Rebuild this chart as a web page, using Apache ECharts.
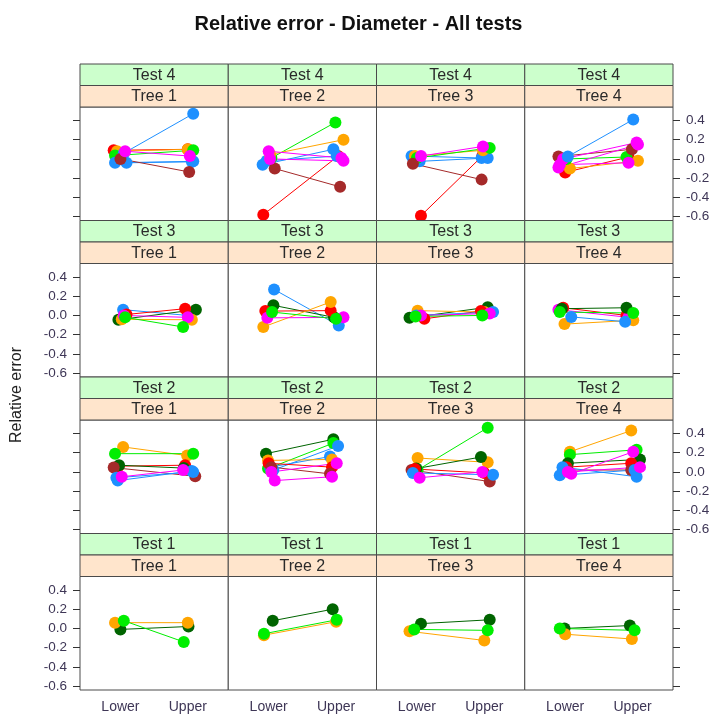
<!DOCTYPE html>
<html>
<head>
<meta charset="utf-8">
<title>Relative error - Diameter - All tests</title>
<script src="https://cdn.jsdelivr.net/npm/echarts@6/dist/echarts.min.js"></script>
<style>
  html, body { margin: 0; padding: 0; background: #ffffff; }
  #chart { width: 717px; height: 715px; }
</style>
</head>
<body>
<div id="chart"></div>
<script>
// Panel labels
const tests = ['Test 4', 'Test 3', 'Test 2', 'Test 1'];   // rows, top to bottom
const trees = ['Tree 1', 'Tree 2', 'Tree 3', 'Tree 4'];   // columns, left to right
const positions = ['Lower', 'Upper'];
const yTicks = [-0.6, -0.4, -0.2, 0.0, 0.2, 0.4];

// Measurer groups (index into groupColors)
const groupColors = ['#FF0000', '#1E90FF', '#00EE00', '#FFA500', '#FF00FF', '#A52A2A', '#006400'];

// Each row: [group, lower value, upper value, lower jitter, upper jitter]
const test4_tree1 = [
  [0, 0.09, 0.10, -0.10, 0.00],
  [3, 0.08, 0.10, -0.05, 0.00],
  [2, 0.035, 0.09, -0.08, 0.08],
  [1, 0.06, 0.47, 0.05, 0.08],
  [1, -0.04, -0.025, -0.08, 0.08],
  [1, -0.04, -0.03, 0.09, 0.06],
  [5, 0.00, -0.135, 0.00, 0.02],
  [4, 0.08, 0.03, 0.07, 0.03]
];
const test4_tree2 = [
  [0, -0.58, 0.03, -0.08, 0.03],
  [1, -0.06, 0.10, -0.09, -0.04],
  [1, -0.02, 0.03, -0.03, 0.01],
  [2, 0.01, 0.38, 0.04, -0.01],
  [3, 0.045, 0.20, 0.02, 0.11],
  [5, -0.10, -0.29, 0.09, 0.06],
  [4, 0.08, 0.01, 0.00, 0.08],
  [4, 0.00, -0.02, 0.02, 0.11]
];
const test4_tree3 = [
  [0, -0.59, 0.03, 0.06, -0.03],
  [1, 0.03, 0.01, -0.08, -0.04],
  [1, -0.025, 0.01, 0.04, 0.05],
  [3, 0.03, 0.09, -0.03, -0.02],
  [2, 0.01, 0.115, 0.00, 0.08],
  [5, -0.05, -0.215, -0.06, -0.04],
  [4, 0.03, 0.13, 0.06, -0.02]
];
const test4_tree4 = [
  [0, -0.14, 0.02, 0.00, -0.06],
  [3, -0.10, -0.02, 0.07, 0.08],
  [2, 0.00, 0.02, 0.02, -0.09],
  [5, 0.025, 0.10, -0.10, -0.01],
  [4, -0.09, 0.15, -0.10, 0.08],
  [4, -0.06, -0.04, -0.08, -0.06],
  [4, 0.00, 0.17, -0.03, 0.06],
  [1, 0.025, 0.41, 0.04, 0.01]
];
const test3_tree1 = [
  [1, 0.06, 0.00, 0.04, 0.00],
  [6, -0.045, 0.06, -0.03, 0.12],
  [0, 0.01, 0.07, 0.09, -0.04],
  [3, -0.04, -0.045, 0.02, 0.06],
  [4, 0.00, -0.02, 0.05, 0.00],
  [2, -0.02, -0.12, 0.07, -0.07]
];
const test3_tree2 = [
  [1, 0.27, -0.105, 0.08, 0.04],
  [6, 0.105, -0.02, 0.07, -0.03],
  [0, 0.045, 0.05, -0.05, -0.08],
  [3, -0.12, 0.14, -0.08, -0.08],
  [4, -0.025, -0.02, -0.02, 0.11],
  [2, 0.035, -0.035, 0.05, 0.00]
];
const test3_tree3 = [
  [6, -0.025, 0.085, -0.11, 0.05],
  [3, 0.05, 0.035, 0.01, 0.00],
  [0, -0.035, 0.045, 0.11, -0.05],
  [1, 0.00, 0.035, -0.01, 0.13],
  [4, 0.00, 0.02, 0.06, 0.08],
  [2, -0.01, 0.00, -0.02, -0.03]
];
const test3_tree4 = [
  [0, 0.08, 0.00, -0.03, -0.09],
  [4, 0.06, -0.02, -0.10, -0.06],
  [6, 0.07, 0.08, -0.05, -0.09],
  [3, -0.09, -0.05, -0.01, 0.01],
  [1, -0.015, -0.065, 0.09, -0.11],
  [2, 0.035, 0.025, -0.08, 0.01]
];
const test2_tree1 = [
  [3, 0.26, 0.17, 0.04, -0.01],
  [2, 0.19, 0.19, -0.08, 0.08],
  [0, 0.06, 0.07, -0.03, -0.04],
  [6, 0.07, 0.04, -0.02, -0.06],
  [5, 0.045, -0.045, -0.10, 0.11],
  [1, -0.09, 0.01, -0.04, 0.06],
  [1, -0.06, 0.00, -0.06, 0.08],
  [4, -0.05, 0.02, 0.02, -0.07]
];
const test2_tree2 = [
  [6, 0.19, 0.34, -0.04, -0.04],
  [2, 0.035, 0.30, -0.01, -0.04],
  [1, 0.02, 0.27, 0.07, 0.03],
  [1, 0.05, 0.16, 0.02, -0.09],
  [3, 0.12, 0.13, -0.01, -0.06],
  [0, 0.09, 0.05, 0.00, -0.06],
  [5, 0.05, -0.02, 0.04, -0.09],
  [4, 0.00, 0.09, 0.04, 0.01],
  [4, -0.09, -0.05, 0.09, -0.06]
];
const test2_tree3 = [
  [2, 0.02, 0.46, 0.01, 0.05],
  [3, 0.145, 0.10, 0.01, 0.05],
  [6, 0.035, 0.155, -0.01, -0.05],
  [5, 0.02, -0.10, -0.08, 0.08],
  [0, 0.03, -0.01, -0.03, 0.00],
  [1, -0.01, -0.03, -0.06, 0.13],
  [4, -0.06, 0.00, 0.04, -0.03]
];
const test2_tree4 = [
  [3, 0.21, 0.43, 0.07, -0.02],
  [2, 0.18, 0.23, 0.07, 0.06],
  [6, 0.09, 0.13, 0.04, 0.11],
  [0, 0.05, 0.09, 0.02, -0.02],
  [5, 0.02, 0.02, 0.04, -0.02],
  [1, 0.05, -0.05, -0.04, 0.06],
  [1, -0.035, 0.02, -0.08, 0.03],
  [4, -0.02, 0.21, 0.09, 0.01],
  [4, 0.00, 0.05, 0.04, 0.11]
];
const test1_tree1 = [
  [6, -0.01, 0.02, 0.00, 0.01],
  [3, 0.06, 0.06, -0.08, 0.00],
  [2, 0.08, -0.14, 0.05, -0.06]
];
const test1_tree2 = [
  [6, 0.08, 0.20, 0.06, -0.05],
  [3, -0.07, 0.07, -0.07, 0.00],
  [2, -0.055, 0.09, -0.07, 0.01]
];
const test1_tree3 = [
  [6, 0.05, 0.09, 0.06, 0.08],
  [3, -0.03, -0.125, -0.11, 0.00],
  [2, -0.01, -0.02, -0.04, 0.05]
];
const test1_tree4 = [
  [6, 0.00, 0.03, -0.01, -0.04],
  [3, -0.06, -0.11, 0.00, -0.01],
  [2, 0.00, -0.02, -0.08, 0.03]
];

const panels = [
  [test4_tree1, test4_tree2, test4_tree3, test4_tree4],
  [test3_tree1, test3_tree2, test3_tree3, test3_tree4],
  [test2_tree1, test2_tree2, test2_tree3, test2_tree4],
  [test1_tree1, test1_tree2, test1_tree3, test1_tree4]
];

// Layout of the 4 x 4 lattice
const FONT = '"Liberation Sans", Arial, sans-serif';
const colLeft0 = 80, colW = 148.25;
const rowTop0 = 64, rowH = 156.5, stripH = 21.5;
const yMin = -0.64, yMax = 0.54;
const xMin = 0.4, xMax = 2.6;
const labelColor = '#3e3656';

const grids = [], xAxes = [], yAxes = [], series = [], graphics = [];

panels.forEach((rowPanels, r) => {
  rowPanels.forEach((lines, c) => {
    const idx = r * 4 + c;
    const left = colLeft0 + c * colW;
    const top = rowTop0 + r * rowH;
    const plotTop = top + 2 * stripH;
    const plotH = rowH - 2 * stripH;

    grids.push({
      left: left, top: plotTop, width: colW, height: plotH,
      show: true, borderColor: '#4a4a4a', borderWidth: 1, backgroundColor: '#ffffff'
    });

    const bottomRow = r === 3;
    xAxes.push({
      type: 'value', gridIndex: idx, min: xMin, max: xMax,
      axisLine: { show: false }, splitLine: { show: false },
      axisTick: { show: false },
      axisLabel: bottomRow ? {
        show: true, customValues: [1, 2], margin: 10,
        formatter: v => positions[Math.round(v) - 1],
        color: labelColor, fontSize: 14, fontFamily: FONT
      } : { show: false }
    });

    const outerLeft = c === 0, outerRight = c === 3;
    const labelsLeft = outerLeft && (r === 1 || r === 3);
    const labelsRight = outerRight && (r === 0 || r === 2);
    yAxes.push({
      type: 'value', gridIndex: idx, min: yMin, max: yMax,
      position: outerRight ? 'right' : 'left',
      axisLine: { show: false }, splitLine: { show: false },
      axisTick: {
        show: outerLeft || outerRight, customValues: yTicks, length: 7,
        lineStyle: { color: '#333', width: 1 }
      },
      axisLabel: (labelsLeft || labelsRight) ? {
        show: true, customValues: yTicks, margin: 13,
        formatter: v => v.toFixed(1),
        color: labelColor, fontSize: 13.5, fontFamily: FONT
      } : { show: false }
    });

    lines.forEach(([g, lo, up, jl, ju]) => {
      series.push({
        type: 'line', xAxisIndex: idx, yAxisIndex: idx,
        data: [[1 + jl, lo], [2 + ju, up]],
        symbol: 'circle', symbolSize: 12, showSymbol: true,
        itemStyle: { color: groupColors[g] },
        lineStyle: { color: groupColors[g], width: 1 },
        silent: true, animation: false, z: 3
      });
    });

    // Strips: test (green) above tree (peach)
    graphics.push({
      type: 'rect', z: 10,
      shape: { x: left, y: top, width: colW, height: stripH },
      style: { fill: '#CCFFCC', stroke: '#4a4a4a', lineWidth: 1 }
    });
    graphics.push({
      type: 'text', z: 11, x: left + colW / 2, y: top + stripH / 2 + 0.5,
      style: { text: tests[r], fill: '#2a2a2a', font: '16px ' + FONT, align: 'center', verticalAlign: 'middle' }
    });
    graphics.push({
      type: 'rect', z: 10,
      shape: { x: left, y: top + stripH, width: colW, height: stripH },
      style: { fill: '#FFE5CC', stroke: '#4a4a4a', lineWidth: 1 }
    });
    graphics.push({
      type: 'text', z: 11, x: left + colW / 2, y: top + 1.5 * stripH + 0.5,
      style: { text: trees[c], fill: '#2a2a2a', font: '16px ' + FONT, align: 'center', verticalAlign: 'middle' }
    });
  });
});

// Axis title on the left
graphics.push({
  type: 'text', z: 11, x: 17, y: 395, rotation: Math.PI / 2,
  style: { text: 'Relative error', fill: '#222', font: '16px ' + FONT, align: 'center', verticalAlign: 'middle' }
});

const chart = echarts.init(document.getElementById('chart'), null, { renderer: 'canvas' });
chart.setOption({
  animation: false,
  backgroundColor: '#ffffff',
  title: {
    text: 'Relative error - Diameter - All tests',
    left: 'center', top: 9,
    textStyle: { fontSize: 20, fontWeight: 'bold', color: '#111', fontFamily: FONT }
  },
  grid: grids,
  xAxis: xAxes,
  yAxis: yAxes,
  series: series,
  graphic: graphics
});
</script>
</body>
</html>
